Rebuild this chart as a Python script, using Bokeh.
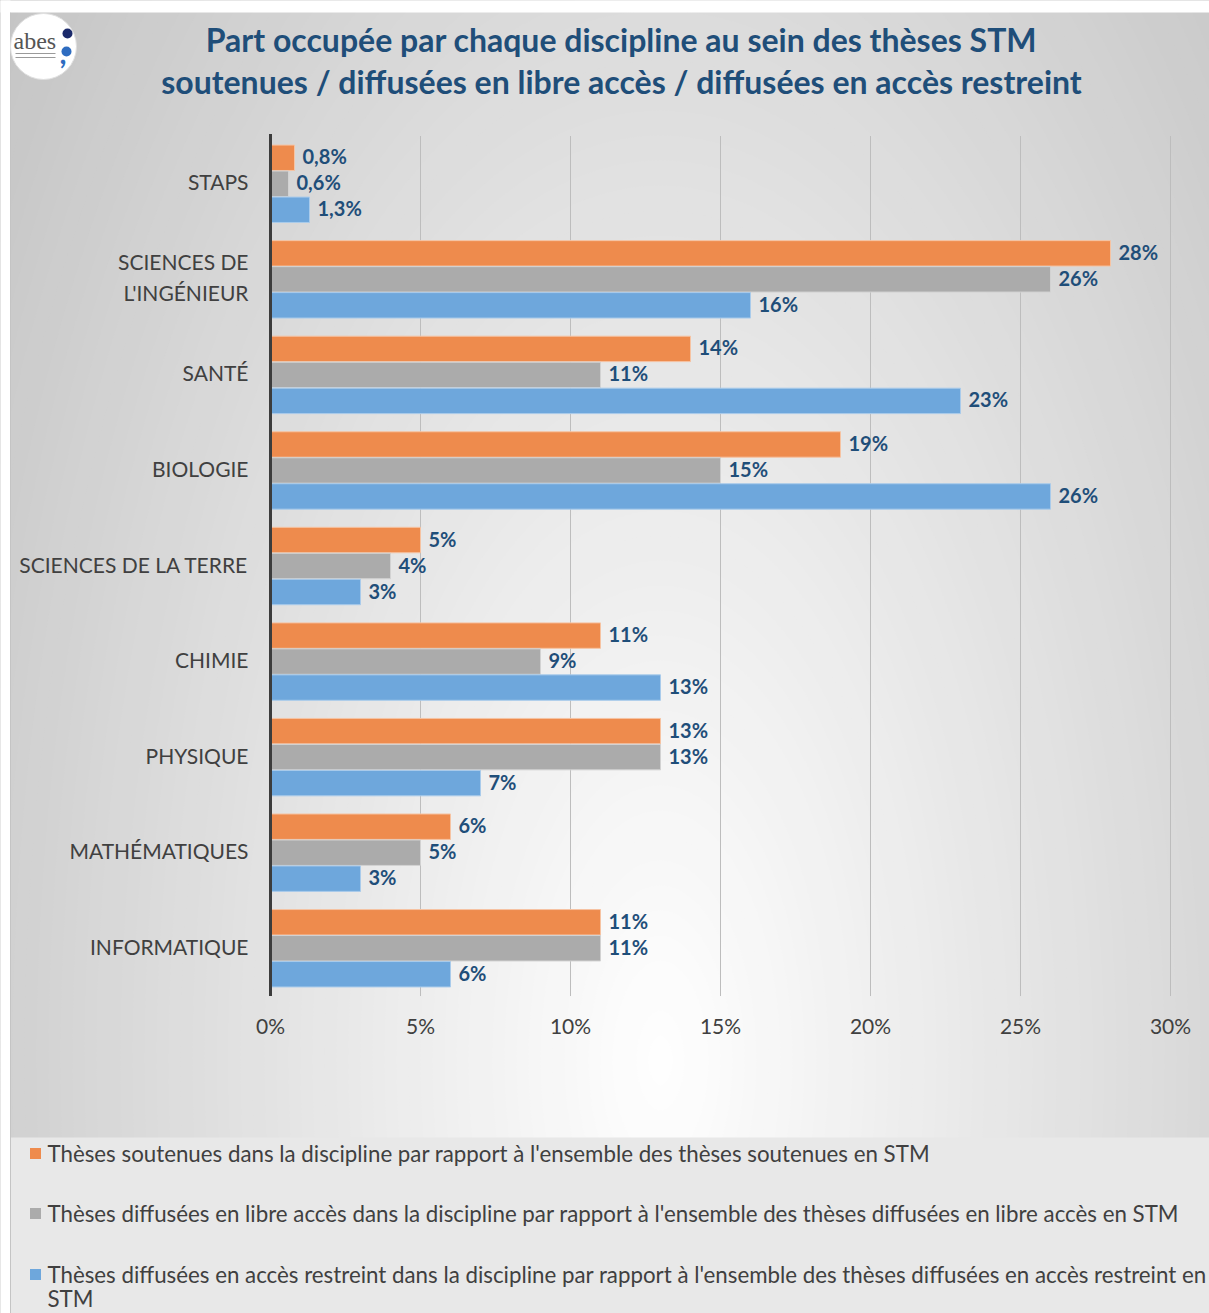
import numpy as np
from bokeh.plotting import figure
from bokeh.models import Range1d
from bokeh.core.properties import value
from bokeh.embed import file_html
from bokeh.resources import INLINE

# ---------------- data ----------------
categories = ["STAPS", "SCIENCES DE\nL'INGÉNIEUR", "SANTÉ", "BIOLOGIE",
              "SCIENCES DE LA TERRE", "CHIMIE", "PHYSIQUE", "MATHÉMATIQUES",
              "INFORMATIQUE"]
soutenues = [0.8, 28, 14, 19, 5, 11, 13, 6, 11]
libre_acces = [0.6, 26, 11, 15, 4, 9, 13, 5, 11]
acces_restreint = [1.3, 16, 23, 26, 3, 13, 7, 3, 6]
series_names = [
    "Thèses soutenues dans la discipline par rapport à l'ensemble des thèses soutenues en STM",
    "Thèses diffusées en libre accès dans la discipline par rapport à l'ensemble des thèses diffusées en libre accès en STM",
    "Thèses diffusées en accès restreint dans la discipline par rapport à l'ensemble des thèses diffusées en accès restreint en STM",
]
x_ticks = [0, 5, 10, 15, 20, 25, 30]
x_tick_labels = ["0%", "5%", "10%", "15%", "20%", "25%", "30%"]
title_lines = ["Part occupée par chaque discipline au sein des thèses STM",
               "soutenues / diffusées en libre accès / diffusées en accès restreint"]

# ---------------- styling ----------------
COLORS = ["#EE8B4D", "#ABABAB", "#6EA7DC"]
EDGES = ["#F6C3A2", "#D2D2D2", "#A9CBEB"]
LABEL_COLOR = "#1F4E79"
TEXT_COLOR = "#404040"
FONT = value("Lato")

W, H = 1209, 1313
PX = 30.0      # pixels per percent
U = 95.56      # pixels per category
def dx(page_x):
    return (page_x - 270) / PX
def dy(page_y):
    return (page_y - 135.5) / U

p = figure(width=W, height=H,
           x_range=Range1d(dx(0), dx(W)),
           y_range=Range1d(dy(H), dy(0)),
           output_backend="svg", toolbar_location=None,
           x_axis_location=None, y_axis_location=None,
           min_border=0, outline_line_color=None,
           background_fill_color="white", border_fill_color="white")
p.xgrid.visible = False
p.ygrid.visible = False

# ---------------- background gradient ----------------
cxp, cyp = 660, 1060
a, b, k = 600.0, 1250.0, 42.0
ds = np.arange(1.6, 0.0, -0.02)
shades = [max(185, int(round(255 - k * d))) for d in ds]
grad_colors = ["#%02x%02x%02x" % (s, s, s) for s in shades]
p.ellipse(x=[dx(cxp)] * len(ds), y=[dy(cyp)] * len(ds),
          width=list(2 * a * ds), height=list(2 * b * ds),
          width_units="screen", height_units="screen",
          fill_color=grad_colors, line_color=None)
# margins and legend band
p.quad(left=[dx(-10), dx(-10)], right=[dx(10), dx(1300)],
       bottom=[dy(1400), dy(12)], top=[dy(-10), dy(-10)],
       fill_color="white", line_color=None)
p.quad(left=[dx(10)], right=[dx(1300)], bottom=[dy(1400)], top=[dy(1137)],
       fill_color="#E8E8E8", line_color=None)
p.segment(x0=[dx(10)], y0=[dy(12)], x1=[dx(10)], y1=[dy(1400)],
          line_color="#C4C4C4", line_width=1)

# ---------------- grid & axis ----------------
n = len(categories)
p.segment(x0=x_ticks[1:], y0=[0] * (len(x_ticks) - 1),
          x1=x_ticks[1:], y1=[n] * (len(x_ticks) - 1),
          line_color="#BDBDBD", line_width=1)

# ---------------- bars ----------------
series = [soutenues, libre_acces, acces_restreint]
offsets = [-0.272, 0.0, 0.272]
centers = np.arange(n) + 0.5

def fmt(v):
    return (f"{v:.1f}".replace(".", ",") + "%") if v < 2 else f"{v:.0f}%"

for vals, off, col, edge in zip(series, offsets, COLORS, EDGES):
    ys = list(centers + off)
    p.hbar(y=ys, left=0, right=vals, height=0.266,
           fill_color=col, line_color=edge, line_width=1)
    p.text(x=vals, y=ys, text=[fmt(v) for v in vals], x_offset=8, y_offset=-1.5,
           text_font=FONT, text_font_size="20px", text_font_style="bold",
           text_color=LABEL_COLOR, text_align="left", text_baseline="middle")

p.segment(x0=[0], y0=[-0.02], x1=[0], y1=[n], line_color="#3C3C3C", line_width=3)

# category labels
p.text(x=[0] * n, y=list(centers), text=categories, x_offset=-22, y_offset=-2,
       text_font=FONT, text_font_size="21px", text_color=TEXT_COLOR,
       text_align="right", text_baseline="middle", text_line_height=1.25)

# tick labels
p.text(x=x_ticks, y=[n] * len(x_ticks), text=x_tick_labels, y_offset=29,
       text_font=FONT, text_font_size="21px", text_color=TEXT_COLOR,
       text_align="center", text_baseline="middle")

# ---------------- title ----------------
p.text(x=[dx(621), dx(621)], y=[dy(39), dy(81)], text=title_lines,
       text_font=FONT, text_font_size="32px", text_font_style="bold",
       text_color=LABEL_COLOR, text_align="center", text_baseline="middle")

# ---------------- logo ----------------
p.scatter(x=[dx(43)], y=[dy(46)], size=66, marker="circle",
          fill_color="white", line_color="#E0E0E0")
p.text(x=[dx(13)], y=[dy(40)], text=["abes"], text_font=value("Liberation Sans Narrow"),
       text_font_size="24px", text_color="#555555", text_align="left",
       text_baseline="middle")
p.segment(x0=[dx(15), dx(15)], y0=[dy(53), dy(57)], x1=[dx(55), dx(55)],
          y1=[dy(53), dy(57)], line_color="#9A9A9A", line_width=1)
p.scatter(x=[dx(67)], y=[dy(33)], size=10, marker="circle",
          fill_color="#1B2A6B", line_color=None)
p.scatter(x=[dx(66)], y=[dy(51)], size=10, marker="circle",
          fill_color="#2E6CC0", line_color=None)
p.text(x=[dx(59)], y=[dy(52)], text=[","], text_font=FONT,
       text_font_size="30px", text_font_style="bold", text_color="#2E6CC0",
       text_align="left", text_baseline="middle")

# ---------------- legend ----------------
leg_y = [1153, 1213, 1274]
p.scatter(x=[dx(35)] * 3, y=[dy(v) for v in leg_y], size=11, marker="square",
          fill_color=COLORS, line_color=None)
last_main, last_tail = series_names[2].rsplit(" ", 1)
leg_texts = [series_names[0], series_names[1], last_main, last_tail]
leg_text_y = [dy(1153), dy(1213), dy(1274), dy(1298)]
p.text(x=[dx(47)] * 4, y=leg_text_y, text=leg_texts,
       text_font=FONT, text_font_size="22.3px", text_color=TEXT_COLOR,
       text_align="left", text_baseline="middle")

with open("out.html", "w", encoding="utf-8") as f:
    f.write(file_html(p, INLINE))
